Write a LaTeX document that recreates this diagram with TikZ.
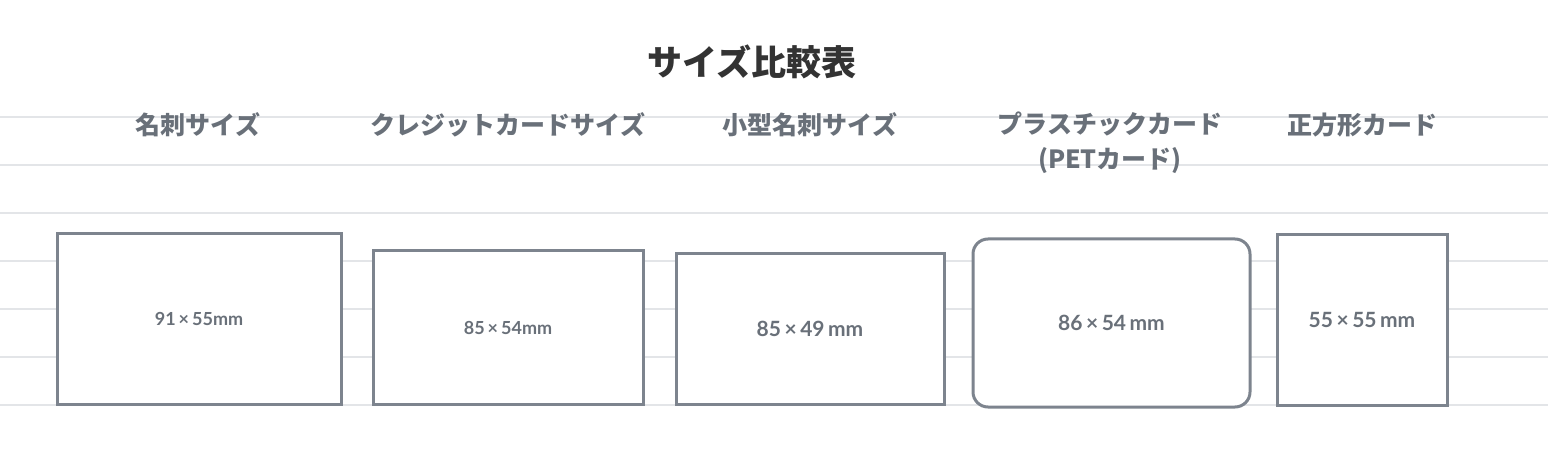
\documentclass[tikz,border=0pt]{standalone}
\usepackage{fontspec}
\setmainfont{Noto Sans CJK JP}
\newfontfamily\sizefont{Lato}
\usepackage{tikz}
\definecolor{rulegray}{HTML}{E3E5E8}
\definecolor{cardgray}{HTML}{7D848E}
\definecolor{headgray}{HTML}{697079}
\definecolor{titlegray}{HTML}{333333}

\begin{document}
\begin{tikzpicture}[x=1pt,y=-1pt,
	rule line/.style={draw=rulegray, line width=1.5pt},
	card/.style={rectangle, draw=cardgray, fill=white, line width=3pt, inner sep=0pt, text=headgray, font=\sizefont\bfseries\fontsize{18}{20}\selectfont},
	big card/.style={card, font=\sizefont\bfseries\fontsize{21}{24}\selectfont},
	head/.style={text=headgray, align=center, font=\fontsize{25}{35}\selectfont\bfseries}]
	\useasboundingbox (0,0) rectangle (1548,454);
	
	\foreach \y in {117,165,...,405}
	\draw[rule line] (0,\y) -- (1548,\y);
	
	\node[font=\fontsize{35}{40}\selectfont\bfseries, text=titlegray] (title) at (752,62) {サイズ比較表};
	
	\node[head] (h1) at (198,125) {名刺サイズ};
	\node[head] (h2) at (508,125) {クレジットカードサイズ};
	\node[head] (h3) at (810,125) {小型名刺サイズ};
	\node[head, anchor=north] (h4) at (1110,108) {プラスチックカード\\(PETカード)};
	\node[head] (h5) at (1362,125) {正方形カード};
	
	\node[card, minimum width=284pt, minimum height=170pt] (c1) at (199,319) {91\,×\,55mm};
	\node[card, minimum width=270pt, minimum height=153pt] (c2) at (508,327.5) {85\,×\,54mm};
	\node[big card, minimum width=268pt, minimum height=150pt] (c3) at (810,329) {85\,×\,49\,mm};
	\node[big card, rounded corners=15pt, minimum width=277pt, minimum height=168pt] (c4) at (1111.5,323) {86\,×\,54\,mm};
	\node[big card, minimum width=170pt, minimum height=170pt] (c5) at (1362,320) {55\,×\,55\,mm};
\end{tikzpicture}
\end{document}
